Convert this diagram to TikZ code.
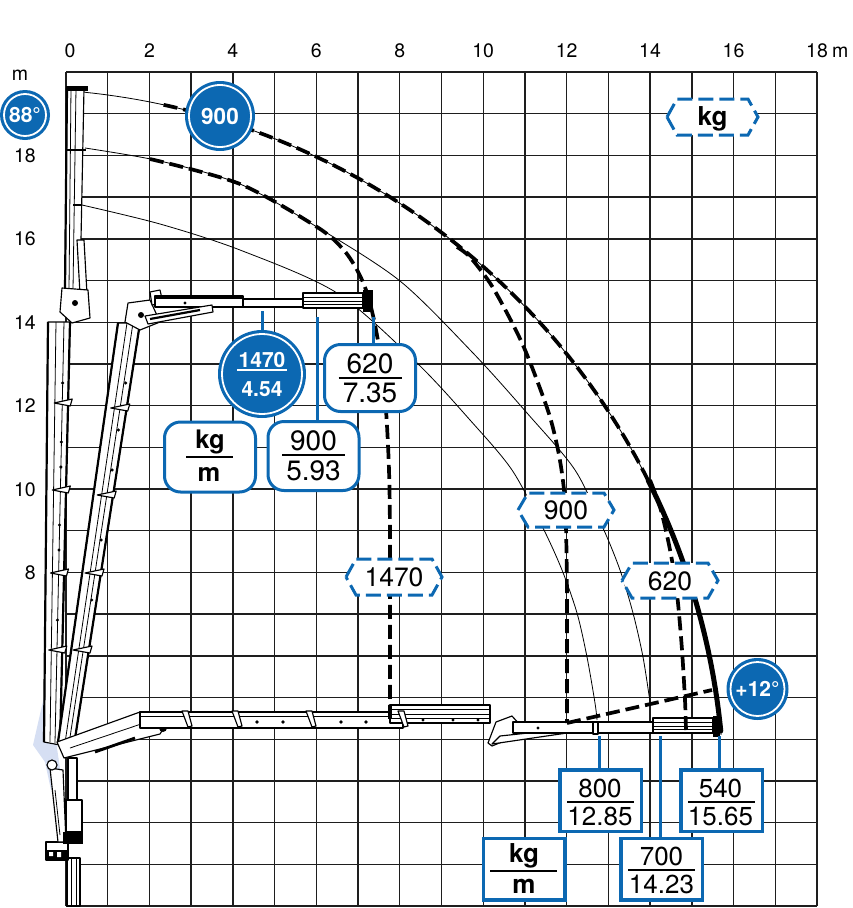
\documentclass[tikz,border=0pt]{standalone}
\usepackage{fontspec}
\setmainfont{TeX Gyre Heros}
\definecolor{kblue}{RGB}{12,104,178}
\definecolor{lblue}{RGB}{214,223,243}
\definecolor{gridc}{RGB}{30,30,30}
\newcommand\myfs[1]{\fontsize{#1}{#1}\selectfont}
\newcommand\hexshape[4]{\filldraw[hexline] ({#1-#3},#2) -- ++(10,-#4) -- ++({2*#3-20},0) -- ++(10,#4) -- ++(-10,#4) -- ++({20-2*#3},0) -- cycle;}
\begin{document}
\begin{tikzpicture}[x=1pt,y=-1pt,
  gridl/.style={draw=gridc,line width=1.4pt},
  thinarc/.style={draw=black,line width=0.8pt},
  envd/.style={draw=black,line width=3.7pt,dash pattern=on 14pt off 6pt},
  envs/.style={draw=black,line width=5pt,line cap=round},
  crane/.style={draw=black,line width=1.15pt,fill=white,line join=round},
  cl/.style={draw=black,line width=0.8pt},
  heavy/.style={draw=black,line width=2.2pt},
  leader/.style={draw=kblue,line width=3pt},
  hexline/.style={draw=kblue,fill=white,line width=3pt,dash pattern=on 15pt off 6pt},
  hext/.style={inner sep=0pt,font=\myfs{26.5},anchor=base},
  bcirc/.style={circle,fill=kblue,text=white,inner sep=0pt},
  ring/.style={draw=white,line width=1.8pt},
  rbox/.style={draw=kblue,line width=3pt,fill=white,rounded corners=16pt,minimum width=91pt,inner sep=0pt},
  sbox/.style={draw=kblue,line width=3.5pt,fill=white,minimum width=81.5pt,minimum height=61.5pt,inner sep=0pt},
  axl/.style={inner sep=0pt,font=\myfs{19.5}},
  fu/.style={inner sep=0pt,font=\myfs{28},anchor=base},
  fb/.style={inner sep=0pt,font=\myfs{26},anchor=base},
  fw/.style={inner sep=0pt,font=\bfseries\myfs{21},text=white,anchor=base},
  fk/.style={inner sep=0pt,font=\bfseries\myfs{25.5},anchor=base},
  frule/.style={draw=black,line width=1.8pt},
]
\useasboundingbox (0,0) rectangle (852,908);
% ---------------- grid
\foreach \i in {0,...,18} {\draw[gridl] ({66+41.72*\i},72) -- ({66+41.72*\i},906);}
\foreach \j in {0,...,20} {\draw[gridl] (66,{906-41.7*\j}) -- (817,{906-41.7*\j});}
% ---------------- axis labels
\node[axl,anchor=base] (xl0) at (70,57) {0};
\foreach \i in {2,4,...,16} {\node[axl,anchor=base] (xl\i) at ({66+41.72*\i},57) {\i};}
\node[axl,anchor=base] (xl18) at (817,57) {18};
\node[axl,anchor=base west] (xlm) at (832,57) {m};
\node[axl,anchor=base] (ylm) at (20,80) {m};
\foreach \j in {8,10,...,18} {\node[axl,anchor=base east] (yl\j) at (36,{906-41.7*\j+7}) {\j};}
% ---------------- pale blue sector
\fill[lblue] (46,688) -- (33,745) -- (45,762) -- (51,790) -- (62,782) -- (57,748) -- (63,700) -- cycle;
% ---------------- thin radius arcs
\draw[thinarc] plot[domain=5.3:84.3,samples=90] ({12.2+712*cos(\x)},{800.5-712*sin(\x)});
\draw[thinarc] plot[smooth] coordinates {(85,148) (160,161) (240,184) (317,227) (400,281) (473,353) (527,413) (575,470) (603,528) (620,570) (633,613) (643,657) (650,702)};
\draw[thinarc] plot[smooth] coordinates {(82,205) (160,224) (240,250) (337,293) (417,363) (470,420) (512,470) (543,528) (562,570) (577,613) (587,657) (595,703) (597,720)};
% ---------------- crane: column and base
\draw[crane] (67,858) rectangle (80,906);
\draw[cl] (71,858) -- (71,906) (76,858) -- (76,906);
\draw[crane] (46,842) rectangle (68,860);
\fill (46,850) rectangle (68,860);
\fill[white] (49,852) rectangle (53,856) (57,852) rectangle (61,857);
\draw[crane] (50,768) -- (58,842) -- (66,842) -- (63,770) -- cycle;
\draw[cl] (55,790) -- (60,835);
\draw[crane] (66,800) rectangle (82,832);
\draw[crane] (68,758) rectangle (77,800);
\filldraw (63,832) rectangle (82,843);
% ---------------- crane: upper config A (88 deg)
\draw[crane] (48,322) -- (70,322) -- (60,745) -- (44,742) -- cycle;
\draw[cl] (56,322) -- (50,742) (64,322) -- (55,743);
\draw[heavy] (48,322) -- (44,742) (70,322) -- (60,745);
\foreach \yy in {383,442,467,525,550,620} {\fill ({64-0.022*(\yy-322)},\yy) circle[radius=1.7];}
\foreach \yy in {403,490,573,650} {\draw[crane] ({56-0.022*(\yy-322)},\yy) -- ({74-0.022*(\yy-322)},{\yy-4}) -- ({72-0.022*(\yy-322)},{\yy+3}) -- cycle;}
\draw[crane] (67,88) -- (84,88) -- (80,290) -- (65,290) -- cycle;
\draw[cl] (71,88) -- (69,290) (76,88) -- (73,290);
\draw[heavy] (67,88) -- (65,290);
\fill (66,86) rectangle (88,91);
\draw[black,line width=1.8pt] (66,150) -- (86,150) (73,205) -- (82,205);
\draw[crane] (77,240) -- (84,240) -- (88,312) -- (81,312) -- cycle;
\draw[crane] (62,288) -- (88,290) -- (90,318) -- (72,323) -- (60,312) -- cycle;
\fill (75,303) circle[radius=3];
% ---------------- crane: upper config B (horizontal at 14.5 m)
\draw[crane] (118,323) -- (140,323) -- (74,745) -- (58,742) -- cycle;
\draw[cl] (127,323) -- (65,743) (133,323) -- (69,744);
\draw[heavy] (118,323) -- (58,742) (140,323) -- (74,745);
\foreach \yy in {383,430,470,540,600} {\fill ({135-0.156*(\yy-323)},\yy) circle[radius=1.7];}
\foreach \yy in {408,495,573,650} {\draw[crane] ({124-0.156*(\yy-323)},\yy) -- ({143-0.156*(\yy-323)},{\yy-4}) -- ({141-0.156*(\yy-323)},{\yy+3}) -- cycle;}
\draw[crane] (128,303) -- (150,300) -- (160,322) -- (140,330) -- (125,322) -- cycle;
\fill (141,315) circle[radius=3];
\draw[crane] (150,292) -- (160,290) -- (163,303) -- (152,305) -- cycle;
\draw[crane] (155,296) rectangle (243,307);
\draw[black,line width=3pt] (155,297) -- (243,297);
\fill (185,303) circle[radius=1.7];
\draw[crane] (243,299) rectangle (303,307);
\draw[black,line width=1.6pt] (243,307) -- (303,307);
\draw[crane] (303,293) rectangle (363,308);
\draw[cl] (303,297) -- (363,297) (303,301) -- (363,301) (303,304.5) -- (363,304.5);
\fill (363,290) rectangle (373,312);
\draw[crane] (145,316) -- (212,305) -- (213,312) -- (148,324) -- cycle;
\draw[black,line width=2.2pt] (150,319) -- (200,310);
% ---------------- crane: lower config
\draw[crane] (57,742) -- (140,712) -- (165,726) -- (160,734) -- (64,758) -- cycle;
\draw[cl] (70,748) -- (150,721);
\draw[black,line width=2.8pt] (95,752) -- (135,738);
\fill (163,728) circle[radius=4];
\draw[crane] (52,765) circle[radius=5];
\draw[crane] (140,712) rectangle (403,728);
\draw[cl] (140,716) -- (403,716);
\draw[black,line width=2.4pt] (140,728) -- (403,728);
\draw[crane] (390,705) rectangle (490,723);
\draw[cl] (390,709) -- (490,709) (390,714) -- (490,714) (390,718) -- (490,718);
\draw[black,line width=2.4pt] (390,705) -- (490,705);
\foreach \xx in {257,283,341,366} {\fill (\xx,722) circle[radius=1.9];}
\foreach \xx in {423,453,478} {\fill (\xx,720) circle[radius=1.6];}
\foreach \xx in {182,232,306,398} {\draw[crane] (\xx,711) -- ({\xx+6},711) -- ({\xx+10},726) -- ({\xx+6},727) -- cycle;}
\draw[crane] (488,743) -- (496,722) -- (512,716) -- (521,726) -- (514,737) -- (492,746) -- cycle;
\draw[crane] (492,744) -- (567,733) -- (566,729) -- (500,736) -- cycle;
\draw[crane] (513,722) rectangle (718,733);
\draw[black,line width=2.6pt] (513,722) -- (653,722);
\draw[crane] (653,718) rectangle (713,733);
\draw[cl] (653,722) -- (713,722) (653,726) -- (713,726) (653,729.5) -- (713,729.5);
\draw[crane] (593,722) -- (598,722) -- (598,734) -- (593,734) -- cycle;
\fill (713,716) rectangle (720,737);
\fill (538,728) circle[radius=1.6];
% ---------------- load envelopes
\draw[envd] plot[domain=26.7:78.05,samples=70] ({12.2+712*cos(\x)},{800.5-712*sin(\x)});
\draw[envs] plot[domain=5.6:26.7,samples=40] ({12.2+712*cos(\x)},{800.5-712*sin(\x)});
\draw[envd] plot[smooth] coordinates {(150,159) (240,184) (317,227) (342,248) (356,268) (366,290) (374,320) (381,360) (386,410) (389,470) (390,540) (390,722)};
\draw[envd] plot[smooth] coordinates {(457,247) (470,257) (490,283) (507,313) (522,343) (535,375) (550,417) (559,455) (564,490) (566,527) (567,600) (567,723)};
\draw[envd] plot[smooth] coordinates {(650,480) (660,507) (668,540) (674,572) (678,603) (682,650) (685,700) (686,730)};
\coordinate (a12s) at (567,723);
\coordinate (a12e) at (712,690);
\draw[envd] (a12s) -- (a12e);
% ---------------- upper boxes
\node[rbox,minimum height=67pt] (b620) at (370,378) {};
\node[rbox,minimum height=69pt] (b900) at (313.5,456) {};
\node[rbox,minimum height=70pt] (bkg1) at (210,457) {};
\node[fu] (b620n) at (370,373) {620};
\draw[frule] (338.5,378) -- (401.5,378);
\node[fu] (b620d) at (370,402) {7.35};
\node[fu] (b900n) at (313.5,450) {900};
\draw[frule] (282,455) -- (345,455);
\node[fu] (b900d) at (313.5,480) {5.93};
\node[fk] (bkg1n) at (210,448) {kg};
\draw[frule] (186,457) -- (233,457);
\node[fk] (bkg1d) at (209,481) {m};
% 1470 circle
\node[bcirc,minimum size=88pt] (c1470) at (262,374) {};
\draw[ring] (c1470.center) circle[radius=40];
\node[fw] (c1470n) at (262,367) {1470};
\draw[white,line width=1.8pt] (237,370) -- (287,370);
\node[fw] (c1470d) at (262,396) {4.54};
% leaders (upper)
\coordinate (p1470) at (262,311);
\coordinate (p900) at (317,317);
\coordinate (p620) at (373,317);
\draw[leader] (p1470) -- (c1470.north);
\draw[leader] (p900) -- (p900 |- b900.north);
\draw[leader] (p620) -- (p620 |- b620.north);
% ---------------- bottom boxes
\coordinate (p800) at (599,736);
\coordinate (p700) at (660,736);
\coordinate (p540) at (719,736);
\node[sbox] (b800) at (600.5,800.5) {};
\node[sbox] (b540) at (721.5,800.5) {};
\node[sbox] (b700) at (661.5,869) {};
\node[sbox] (bkg2) at (524,869) {};
\draw[leader] (p800) -- (p800 |- b800.north);
\draw[leader] (p540) -- (p540 |- b540.north);
\draw[leader] (p700) -- (p700 |- b700.north);
\node[fb] (b800n) at (600,797) {800};
\draw[frule] (567,802) -- (634,802);
\node[fb] (b800d) at (600,825) {12.85};
\node[fb] (b540n) at (720.5,797) {540};
\draw[frule] (688,802) -- (755,802);
\node[fb] (b540d) at (720.5,825) {15.65};
\node[fb] (b700n) at (661.5,865) {700};
\draw[frule] (628,870) -- (695,870);
\node[fb] (b700d) at (661.5,893) {14.23};
\node[fk,font=\bfseries\myfs{26}] (bkg2n) at (524,862) {kg};
\draw[frule] (490,871) -- (557,871);
\node[fk,font=\bfseries\myfs{26}] (bkg2d) at (524,893) {m};
% ---------------- hexagon labels
\hexshape{712.5}{117}{45.5}{18}
\node[fk,font=\bfseries\myfs{26}] (hkg) at (712.5,125) {kg};
\hexshape{566}{510}{48}{17}
\node[hext] (h900) at (566,519.5) {900};
\hexshape{670}{580.5}{48}{17.5}
\node[hext] (h620) at (670,590) {620};
\hexshape{394}{577}{48}{18}
\node[hext] (h1470) at (394,586.5) {1470};
% ---------------- blue circles
\node[bcirc,minimum size=50pt,font=\bfseries\myfs{21}] (c88) at (25,115) {88°};
\draw[ring] (c88.center) circle[radius=21];
\node[bcirc,minimum size=70pt,font=\bfseries\myfs{22.5}] (c900) at (220,116) {900};
\draw[ring] (c900.center) circle[radius=31];
\node[bcirc,minimum size=62pt,font=\bfseries\myfs{21}] (c12) at (757.5,689) {+12°};
\draw[ring] (c12.center) circle[radius=27];
\end{tikzpicture}
\end{document}
